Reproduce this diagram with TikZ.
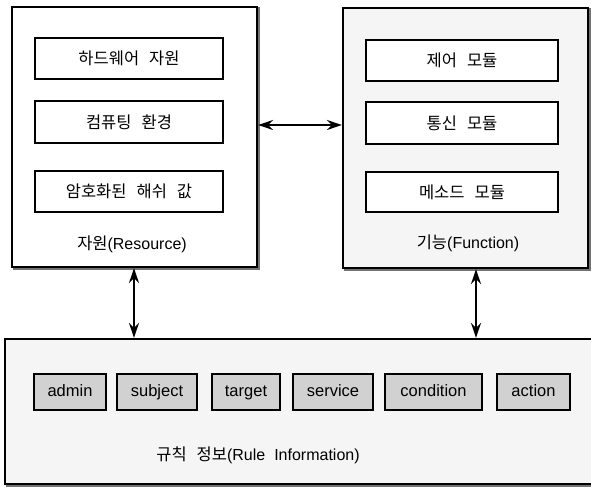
\documentclass[tikz,border=0pt]{standalone}
\usepackage{fontspec}
\setmainfont{Liberation Sans}
\newfontfamily\kr{Noto Sans CJK KR}
\newcommand\ksp{\hspace{10pt}}
\usetikzlibrary{arrows.meta}
\tikzset{
  bigbox/.style={draw, line width=2.2pt, inner sep=0pt,
    preaction={draw=black!55, line width=2.6pt, transform canvas={shift={(1.8pt,-1.8pt)}}}},
  innerbox/.style={draw, line width=2.4pt, fill=white, inner sep=0pt, font=\fontsize{16.5}{19}\selectfont},
  rulebox/.style={draw, line width=2.6pt, fill=black!18, inner sep=0pt, minimum height=36pt,
    text height=12pt, text depth=3.5pt, font=\fontsize{16.5}{19}\selectfont},
  lbl/.style={inner sep=0pt, font=\fontsize{16}{19}\selectfont},
  conn/.style={line width=2.4pt, {Stealth[length=15pt,width=10pt]}-{Stealth[length=15pt,width=10pt]}}
}
\begin{document}
\begin{tikzpicture}[x=1pt,y=-1pt]
\useasboundingbox (0,0) rectangle (591,489);
\fill[white] (0,0) rectangle (591,489);
\clip (0,0) rectangle (591,489);
% big boxes
\node[bigbox, fill=white, minimum width=245pt, minimum height=260pt] (res) at (134.5,137) {};
\node[bigbox, fill=black!4, minimum width=245pt, minimum height=260pt] (fun) at (465.5,138) {};
\node[bigbox, fill=black!4, minimum width=595pt, minimum height=145pt] (rule) at (302.5,411.5) {};
% resource inner
\node[innerbox, minimum width=188pt, minimum height=41pt] (hw) at (129,58.5) {\kr 하드웨어\ksp 자원};
\node[innerbox, minimum width=188pt, minimum height=42pt] (ce) at (129,122) {\kr 컴퓨팅\ksp 환경};
\node[innerbox, minimum width=188pt, minimum height=41pt] (hash) at (129,191.5) {\kr 암호화된\ksp 해쉬\ksp 값};
\node[lbl] (resl) at (132,244) {{\kr\fontsize{16.5}{19}\selectfont 자원}(Resource)};
% function inner
\node[innerbox, minimum width=192pt, minimum height=41pt] (ctl) at (462,60.5) {\kr 제어\ksp 모듈};
\node[innerbox, minimum width=192pt, minimum height=42pt] (com) at (462,123) {\kr 통신\ksp 모듈};
\node[innerbox, minimum width=192pt, minimum height=40pt] (met) at (462,192) {\kr 메소드\ksp 모듈};
\node[lbl] (funl) at (468,243) {{\kr\fontsize{16.5}{19}\selectfont 기능}(Function)};
% rule boxes
\node[rulebox, minimum width=72pt] (admin) at (70,392) {admin};
\node[rulebox, minimum width=80pt] (subj) at (157,392) {subject};
\node[rulebox, minimum width=68pt] (targ) at (246,392) {target};
\node[rulebox, minimum width=80pt] (serv) at (333,392) {service};
\node[rulebox, minimum width=97pt] (cond) at (433.5,392) {condition};
\node[rulebox, minimum width=73pt] (act) at (533.5,392) {action};
\node[lbl] (rulel) at (258,455) {{\kr\fontsize{16.5}{19}\selectfont 규칙\ksp 정보}(Rule\hspace{9pt}Information)};
% connectors
\coordinate (hy) at (300,125);
\coordinate (lx) at (134,300);
\coordinate (rx) at (476,300);
\draw[conn] (res.east |- hy) -- (fun.west |- hy);
\draw[conn] (res.south -| lx) -- (rule.north -| lx);
\draw[conn] (fun.south -| rx) -- (rule.north -| rx);
\end{tikzpicture}
\end{document}
